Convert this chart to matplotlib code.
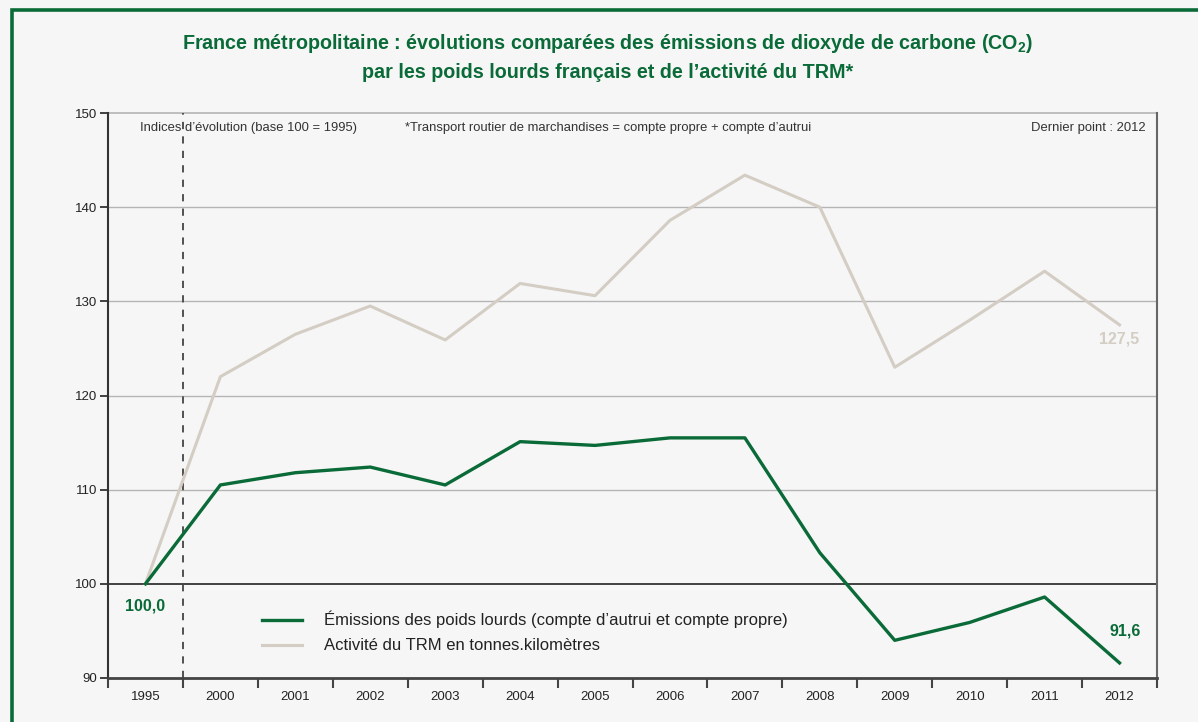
import matplotlib
matplotlib.use("Agg")
import matplotlib.pyplot as plt
from matplotlib.patches import Rectangle

plt.rcParams['font.family'] = ['Liberation Sans', 'DejaVu Sans']
plt.rcParams['mathtext.fontset'] = 'custom'
plt.rcParams['mathtext.rm'] = 'Liberation Sans:bold'
plt.rcParams['mathtext.bf'] = 'Liberation Sans:bold'

years = ["1995", "2000", "2001", "2002", "2003", "2004", "2005",
         "2006", "2007", "2008", "2009", "2010", "2011", "2012"]
emissions = [100.0, 110.5, 111.8, 112.4, 110.5, 115.1, 114.7,
             115.5, 115.5, 103.3, 94.0, 95.9, 98.6, 91.6]
trm = [100.0, 122.0, 126.5, 129.5, 125.9, 131.9, 130.6,
       138.6, 143.4, 140.0, 123.0, 128.0, 133.2, 127.5]

GREEN = "#0a6b38"
BEIGE = "#d3cdc4"
BG = "#f6f6f6"

W, H = 1198, 722
fig = plt.figure(figsize=(W / 100, H / 100), dpi=100, facecolor=BG)

# green frame around the panel
fig.add_artist(Rectangle((12 / W, -0.1), 1.2, (H - 10) / H + 0.1,
                         transform=fig.transFigure, fill=False,
                         edgecolor=GREEN, linewidth=2.6))

ax = fig.add_axes([108 / W, 1 - 678 / H, (1157 - 108) / W, (678 - 113) / H])
ax.set_facecolor(BG)

x = list(range(len(years)))
ax.set_xlim(-0.5, len(years) - 0.5)
ax.set_ylim(90, 150)

# horizontal grid
for v in [110, 120, 130, 140]:
    ax.axhline(v, color="#b5b5b5", linewidth=1.0, zorder=1)
ax.axhline(150, color="#b5b5b5", linewidth=1.2, zorder=1, clip_on=False)
ax.axhline(100, color="#333333", linewidth=1.3, zorder=2)

# break between 1995 and 2000
ax.axvline(0.5, color="#444444", linewidth=1.3, linestyle=(0, (4, 4)), zorder=2)

ax.plot(x, trm, color=BEIGE, linewidth=2.2, zorder=3,
        label="Activité du TRM en tonnes.kilomètres")
ax.plot(x, emissions, color=GREEN, linewidth=2.4, zorder=4,
        label="Émissions des poids lourds (compte d’autrui et compte propre)")

ax.spines["top"].set_visible(False)
ax.spines["left"].set_color("#333333")
ax.spines["left"].set_linewidth(1.5)
ax.spines["bottom"].set_color("#444444")
ax.spines["bottom"].set_linewidth(2.0)
ax.spines["right"].set_color("#666666")
ax.spines["right"].set_linewidth(1.5)

ax.set_yticks([90, 100, 110, 120, 130, 140, 150])
ax.tick_params(axis="y", direction="out", length=6, width=1.3,
               color="#333333", labelsize=9.5, labelcolor="#222222", pad=2)

ax.set_xticks([i - 0.5 for i in range(len(years) + 1)])
ax.set_xticklabels([])
ax.set_xticks(x, minor=True)
ax.set_xticklabels(years, minor=True)
ax.tick_params(axis="x", which="major", direction="out", length=7.5,
               width=1.5, color="#444444")
ax.tick_params(axis="x", which="minor", length=0, labelsize=9.5,
               labelcolor="#222222", pad=9)

# notes inside the plot area
fig.text(140 / W, 1 - 128 / H, "Indices d’évolution (base 100 = 1995)",
         fontsize=9.4, color="#333333", va="center", ha="left")
fig.text(405 / W, 1 - 128 / H,
         "*Transport routier de marchandises = compte propre + compte d’autrui",
         fontsize=9.4, color="#333333", va="center", ha="left")
fig.text(1146 / W, 1 - 128 / H, "Dernier point : 2012",
         fontsize=9.4, color="#333333", va="center", ha="right")

# value labels
ax.annotate(f"{emissions[0]:.1f}".replace(".", ","), (x[0], emissions[0]),
            xytext=(0, -16), textcoords="offset points", ha="center",
            va="center", fontsize=11.5, fontweight="bold", color=GREEN)
ax.annotate(f"{emissions[-1]:.1f}".replace(".", ","), (x[-1], emissions[-1]),
            xytext=(4, 23), textcoords="offset points", ha="center",
            va="center", fontsize=11.5, fontweight="bold", color=GREEN)
ax.annotate(f"{trm[-1]:.1f}".replace(".", ","), (x[-1], trm[-1]),
            xytext=(0, -10), textcoords="offset points", ha="center",
            va="center", fontsize=11.5, fontweight="bold", color=BEIGE)

handles, labels = ax.get_legend_handles_labels()
leg = ax.legend(handles[::-1], labels[::-1], loc="upper left",
                bbox_to_anchor=((262 - 108) / 1049, (678 - 611) / 565),
                frameon=False, fontsize=12, handlelength=2.4,
                handletextpad=1.35, labelspacing=0.6, borderpad=0,
                borderaxespad=0)
for t in leg.get_texts():
    t.set_color("#222222")

title = ("France métropolitaine : évolutions comparées des émissions de "
         "dioxyde de carbone (CO$_2$)\npar les poids lourds français et de "
         "l’activité du TRM*")
fig.text(608 / W, 1 - 57 / H, title, ha="center", va="center",
         fontsize=14.2, fontweight="bold", color=GREEN, linespacing=1.5)

fig.savefig("out.png", dpi=100, facecolor=BG)
